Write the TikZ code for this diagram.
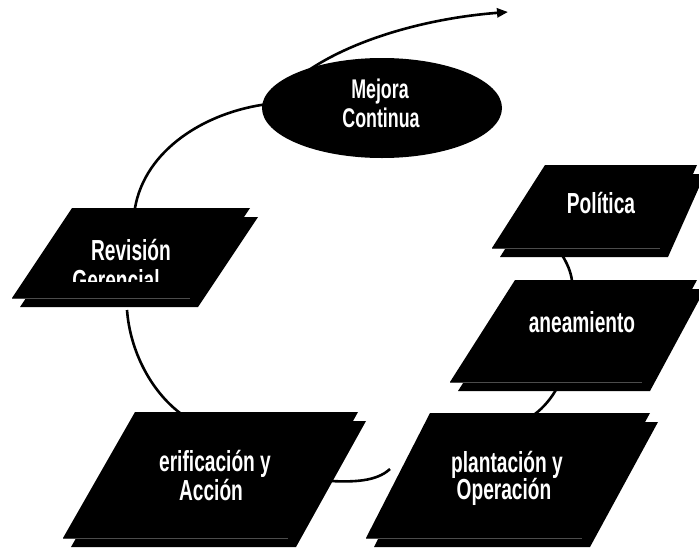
\documentclass[tikz,border=0pt]{standalone}
\usepackage{fontspec}
\setmainfont[FakeStretch=0.66]{Liberation Sans}
\usetikzlibrary{arrows.meta,shapes.geometric}
\newcommand\mybox[4]{%
  \fill[shift={(8,9)}] #1 -- #2 -- #3 -- #4 -- cycle;
  \fill #1 -- #2 -- #3 -- #4 -- cycle;
  \draw[line width=0.4pt, black!70] #4 -- #3;}
\begin{document}
\begin{tikzpicture}[x=1pt,y=-1pt,
  conn/.style={line width=2.6pt, draw=black},
  lbl/.style={text=white, font=\fontsize{29}{31}\selectfont\bfseries, inner sep=0pt, anchor=base}]
\useasboundingbox (0,0) rectangle (699,549);
% connector end points
\coordinate (revT) at (135,208);
\coordinate (revB) at (127,310);
\coordinate (verT) at (180,413);
\coordinate (verR) at (330,481);
\coordinate (impL) at (390,469);
\coordinate (impT) at (535,414);
\coordinate (plaB) at (558,386);
\coordinate (plaT) at (572,281);
\coordinate (polB) at (562,255);
\coordinate (melL) at (268,104);
\coordinate (melT) at (306,72);
\coordinate (tip) at (508,12);
% connectors
\draw[conn] (revT) .. controls (145,150) and (205,112) .. (melL);
\draw[conn, -{Triangle[length=11pt,width=9pt]}] (melT) .. controls (355,38) and (430,18) .. (tip);
\draw[conn] (revB) .. controls (130,350) and (150,390) .. (verT);
\draw[conn] (verR) .. controls (352,482) and (376,482) .. (impL);
\draw[conn] (plaB) .. controls (552,398) and (543,408) .. (impT);
\draw[conn] (polB) .. controls (567,263) and (571,272) .. (plaT);
% ellipse
\node[ellipse, fill=black, minimum width=240pt, minimum height=100pt, inner sep=0pt] (mel) at (382,108) {};
% boxes
\mybox{(72,208)}{(250,208)}{(190,298)}{(12,298)}
\mybox{(545,165)}{(697,165)}{(660,248)}{(492,248)}
\mybox{(515,280)}{(697,280)}{(642,382)}{(450,382)}
\mybox{(135,412)}{(358,412)}{(288,538)}{(63,538)}
\mybox{(430,413)}{(650,413)}{(582,538)}{(366,538)}
% texts
\node[lbl, font=\fontsize{27}{29}\selectfont\bfseries] (mel1) at (380,98) {Mejora};
\node[lbl, font=\fontsize{27}{29}\selectfont\bfseries] (mel2) at (381,127) {Continua};
\node[lbl] (rev1) at (131,260) {Revisión};
\begin{scope}
\clip (0,0) rectangle (699,281);
\node[lbl] (rev2) at (116,290) {Gerencial};
\end{scope}
\node[lbl] (pol) at (601,213) {Política};
\node[lbl] (pla) at (582,332) {aneamiento};
\node[lbl] (ver1) at (215,471) {erificación y};
\node[lbl] (ver2) at (211,500) {Acción};
\node[lbl] (imp1) at (507,472) {plantación y};
\node[lbl] (imp2) at (504,499) {Operación};
\end{tikzpicture}
\end{document}
